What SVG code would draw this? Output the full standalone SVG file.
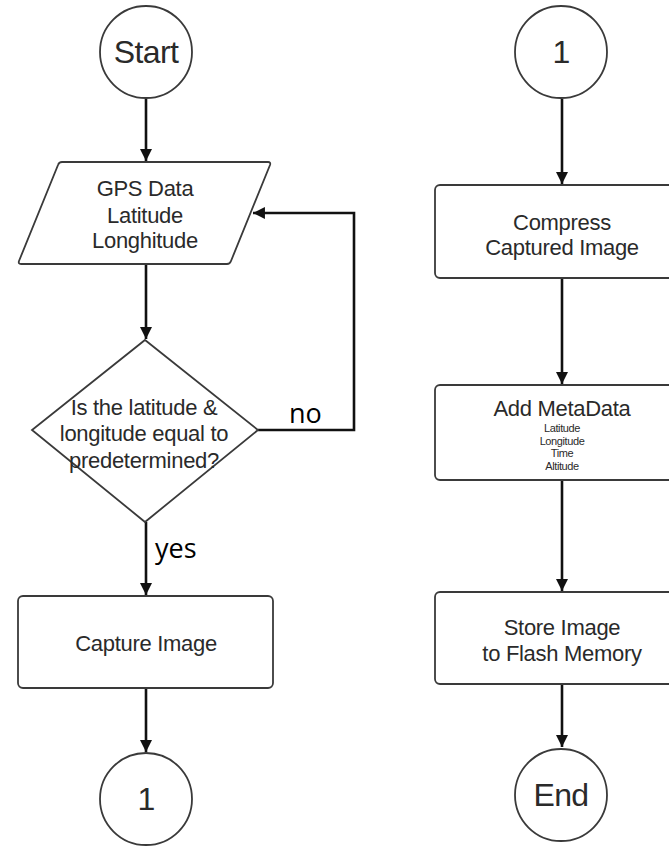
<svg xmlns="http://www.w3.org/2000/svg" width="669" height="846" viewBox="0 0 669 846">
<style>
.shape{fill:#fff;stroke:#3a3a3a;stroke-width:1.8}
.t{font-family:"Liberation Sans",Arial,sans-serif;fill:#2a2a2a;text-anchor:middle;letter-spacing:-0.3px}
.big{font-size:32px;letter-spacing:-0.6px}
.mid{font-size:22px}
.small{font-size:11px;letter-spacing:-0.4px}
.lbl{font-family:"Open Sans","Liberation Sans",sans-serif;font-size:27px;fill:#000}
.c{fill:none;stroke:#111;stroke-width:2.6}
</style>
<defs>
<marker id="ah" viewBox="0 0 10 10" refX="10" refY="5" markerWidth="4.6" markerHeight="4.6" orient="auto" markerUnits="strokeWidth">
<path d="M0,0 L10,5 L0,10 z" fill="#111"/>
</marker>
</defs>
<rect width="669" height="846" fill="#fff"/>
<g id="connectors">
<line class="c" x1="146" y1="99" x2="146" y2="161" marker-end="url(#ah)"/>
<line class="c" x1="146" y1="264" x2="146" y2="339" marker-end="url(#ah)"/>
<polyline class="c" points="258,430 354,430 354,213 253,213" marker-end="url(#ah)"/>
<line class="c" x1="146" y1="522" x2="146" y2="595" marker-end="url(#ah)"/>
<line class="c" x1="146" y1="688" x2="146" y2="752" marker-end="url(#ah)"/>
<line class="c" x1="562" y1="99" x2="562" y2="184" marker-end="url(#ah)"/>
<line class="c" x1="562" y1="278" x2="562" y2="384" marker-end="url(#ah)"/>
<line class="c" x1="562" y1="480" x2="562" y2="591" marker-end="url(#ah)"/>
<line class="c" x1="562" y1="684" x2="562" y2="747" marker-end="url(#ah)"/>
<text class="lbl" x="289" y="423">no</text>
<text class="lbl" x="155" y="558">yes</text>
</g>
<g id="start">
<circle class="shape" cx="146" cy="52" r="46"/>
<text class="t big" x="146" y="63">Start</text>
</g>
<g id="gps">
<path class="shape" d="M62,162 L268,162 Q271,162 270,165 L231,261 Q230,264 227,264 L21,264 Q18,264 19,261 L58,165 Q59,162 62,162 Z"/>
<text class="t mid" x="145" y="196">GPS Data</text>
<text class="t mid" x="145" y="223">Latitude</text>
<text class="t mid" x="145" y="248">Longhitude</text>
</g>
<g id="decision">
<polygon class="shape" points="145,340 258,430 145,522 32,430"/>
<text class="t mid" x="144" y="415">Is the latitude &amp;</text>
<text class="t mid" x="144" y="441">longitude equal to</text>
<text class="t mid" x="144" y="468">predetermined?</text>
</g>
<g id="capture">
<rect class="shape" x="18" y="596" width="255" height="92" rx="5"/>
<text class="t mid" x="146" y="651">Capture Image</text>
</g>
<g id="conn1a">
<circle class="shape" cx="146" cy="799" r="46"/>
<text class="t big" x="146" y="810">1</text>
</g>
<g id="conn1b">
<circle class="shape" cx="561" cy="52" r="46"/>
<text class="t big" x="561" y="63">1</text>
</g>
<g id="compress">
<rect class="shape" x="435" y="185" width="255" height="93" rx="5"/>
<text class="t mid" x="562" y="230">Compress</text>
<text class="t mid" x="562" y="255">Captured Image</text>
</g>
<g id="metadata">
<rect class="shape" x="435" y="385" width="255" height="95" rx="5"/>
<text class="t mid" x="562" y="416">Add MetaData</text>
<text class="t small" x="562" y="432">Latitude</text>
<text class="t small" x="562" y="445">Longitude</text>
<text class="t small" x="562" y="457">Time</text>
<text class="t small" x="562" y="470">Altitude</text>
</g>
<g id="store">
<rect class="shape" x="435" y="592" width="255" height="92" rx="5"/>
<text class="t mid" x="562" y="635">Store Image</text>
<text class="t mid" x="562" y="661">to Flash Memory</text>
</g>
<g id="end">
<circle class="shape" cx="561" cy="795" r="46"/>
<text class="t big" x="561" y="806">End</text>
</g>
</svg>
